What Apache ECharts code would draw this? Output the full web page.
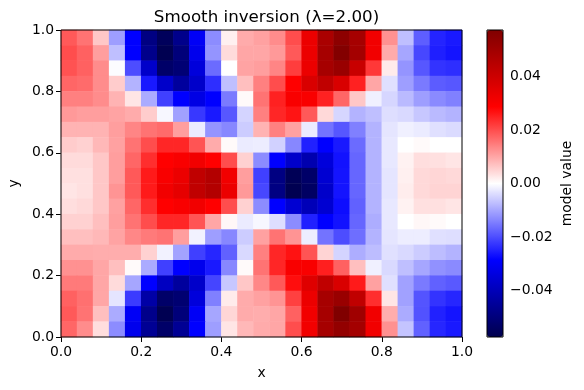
<!DOCTYPE html>
<html>
<head>
<meta charset="utf-8">
<style>
  html, body { margin: 0; padding: 0; background: #fff; }
  #chart { width: 584px; height: 390px; }
</style>
<script src="https://cdn.jsdelivr.net/npm/echarts@6/dist/echarts.min.js"></script>
</head>
<body>
<div id="chart"></div>
<script>
const FONT = '"DejaVu Sans", sans-serif';
const vmax = 0.0575;

// top row first, in units of vmax / 2 (1 = pure red, -1 = pure blue)
const row00 = [.65,.55,.22,-.38,-1,-1.7,-1.92,-1.65,-1.05,-.45,.06,.33,.37,.45,.7,1.15,1.67,1.9,1.7,1.1,.43,-.25,-.63,-.86,-.9];
const row01 = [.7,.62,.38,-.25,-1,-1.65,-1.98,-1.75,-1.1,-.42,.14,.35,.35,.4,.65,1.15,1.7,1.98,1.72,1.1,.33,-.35,-.72,-.88,-.92];
const row02 = [.68,.62,.45,-.01,-.7,-1.3,-1.85,-1.78,-1.2,-.58,0,.36,.38,.48,.76,1.15,1.7,1.8,1.43,.78,.08,-.42,-.66,-.8,-.82];
const row03 = [.6,.58,.45,.2,-.3,-.9,-1.3,-1.55,-1.3,-.82,-.25,.25,.5,.7,1,1.3,1.5,1.3,.87,.35,-.12,-.38,-.52,-.64,-.66];
const row04 = [.5,.5,.45,.3,.1,-.33,-.75,-1,-1.15,-1,-.52,.02,.55,.87,1.05,1.05,.87,.6,.22,-.06,-.16,-.27,-.38,-.46,-.5];
const row05 = [.4,.38,.38,.36,.33,.2,-.03,-.37,-.78,-.9,-.66,-.17,.5,.85,.92,.65,.15,-.16,-.3,-.25,-.13,-.15,-.22,-.27,-.3];
const row06 = [.3,.3,.3,.38,.48,.55,.58,.38,-.08,-.42,-.47,-.2,.3,.5,.37,-.08,-.55,-.66,-.5,-.3,-.1,-.06,-.08,-.12,-.14];
const row07 = [.2,.18,.28,.37,.55,.7,.85,.85,.67,.33,.02,-.08,-.07,-.18,-.47,-.87,-1,-.9,-.58,-.3,-.09,0,.02,0,0];
const row08 = [.14,.14,.22,.38,.6,.82,1,1.05,1.1,1,.7,.18,-.45,-1,-1.3,-1.45,-1.2,-.93,-.6,-.3,-.09,.05,.13,.12,.1];
const row09 = [.12,.12,.22,.38,.65,.9,1.05,1.15,1.5,1.6,1.1,.38,-.75,-1.7,-1.95,-1.85,-1.25,-.92,-.6,-.3,-.1,.06,.15,.16,.15];
const row10 = [.1,.12,.22,.42,.65,.9,1.1,1.2,1.5,1.6,1.15,.4,-.72,-1.7,-1.98,-1.88,-1.3,-.92,-.6,-.3,-.1,.07,.15,.17,.17];
const row11 = [.13,.15,.22,.37,.6,.82,1,1.05,1.1,1,.7,.18,-.45,-1,-1.25,-1.4,-1.25,-.95,-.62,-.3,-.09,.05,.12,.12,.1];
const row12 = [.18,.18,.25,.38,.55,.7,.85,.85,.67,.35,.03,-.08,-.03,-.13,-.45,-.87,-1,-.93,-.6,-.32,-.09,0,.03,.02,0];
const row13 = [.25,.25,.28,.36,.47,.52,.55,.38,-.05,-.38,-.47,-.2,.37,.55,.42,-.07,-.55,-.7,-.57,-.3,-.1,-.07,-.07,-.12,-.13];
const row14 = [.33,.33,.32,.32,.32,.18,-.05,-.36,-.75,-.85,-.62,-.15,.5,.85,.93,.67,.17,-.17,-.32,-.26,-.12,-.15,-.2,-.26,-.3];
const row15 = [.43,.43,.35,.25,.02,-.33,-.75,-1,-1.1,-.9,-.47,.02,.55,.85,1.05,1.05,.88,.62,.25,-.06,-.15,-.25,-.35,-.43,-.46];
const row16 = [.52,.52,.35,.14,-.35,-1,-1.35,-1.55,-1.3,-.73,-.22,.22,.47,.65,.95,1.25,1.5,1.3,.9,.37,-.12,-.37,-.52,-.62,-.65];
const row17 = [.62,.56,.35,-.1,-.77,-1.5,-1.85,-1.8,-1.2,-.5,.08,.33,.37,.42,.75,1.15,1.7,1.8,1.5,.82,.1,-.37,-.67,-.8,-.85];
const row18 = [.65,.55,.25,-.33,-1.05,-1.65,-1.97,-1.75,-1.05,-.35,.16,.33,.32,.35,.62,1.1,1.7,2,1.75,1.1,.32,-.33,-.68,-.87,-.92];
const row19 = [.6,.45,.13,-.45,-1.1,-1.6,-1.85,-1.6,-1,-.38,.1,.28,.33,.35,.7,1.1,1.7,1.85,1.72,1.1,.43,-.23,-.62,-.85,-.9];
const rows = [row00,row01,row02,row03,row04,row05,row06,row07,row08,row09,row10,row11,row12,row13,row14,row15,row16,row17,row18,row19];

const xTicks = [0, 0.2, 0.4, 0.6, 0.8, 1];
const yTicks = [0, 0.2, 0.4, 0.6, 0.8, 1];
const cbarTicks = [-0.04, -0.02, 0, 0.02, 0.04];
const seismic = ['#00004d', '#0000ff', '#ffffff', '#ff0000', '#800000'];

const xCats = rows[0].map((_, i) => i);
const yCats = rows.map((_, i) => i);
const cells = [];
rows.forEach((row, r) => {
  row.forEach((level, c) => {
    cells.push([c, rows.length - 1 - r, level * vmax / 2]);
  });
});

const textStyle = { color: '#000', fontFamily: FONT, fontSize: 13.9 };
const tickStyle = { show: true, length: 5, lineStyle: { color: '#000', width: 1 } };
const fixed = (v) => v.toFixed(1);
const signed = (v) => v.toFixed(2).replace('-', '\u2212');

const chart = echarts.init(document.getElementById('chart'), null, { renderer: 'canvas' });
chart.setOption({
  animation: false,
  backgroundColor: '#fff',
  title: {
    text: 'Smooth inversion (\u03bb=2.00)',
    left: 261.5,
    top: 4,
    textAlign: 'center',
    textStyle: { color: '#000', fontFamily: FONT, fontSize: 16.7, fontWeight: 'normal' },
  },
  grid: [
    { left: 61, top: 30, width: 401, height: 307, outerBoundsMode: 'none', show: true, borderColor: '#000', borderWidth: 1, backgroundColor: 'transparent', z: 10 },
    { left: 487, top: 30, width: 16, height: 307, outerBoundsMode: 'none', show: true, borderColor: '#000', borderWidth: 1, backgroundColor: 'transparent', z: 10 },
  ],
  xAxis: [
    { type: 'category', gridIndex: 0, data: xCats, show: false },
    {
      type: 'value', gridIndex: 0, min: 0, max: 1, position: 'bottom',
      name: 'x', nameLocation: 'middle', nameGap: 29, nameTextStyle: textStyle,
      splitLine: { show: false }, axisLine: { show: false }, axisTick: { ...tickStyle, customValues: xTicks },
      axisLabel: { ...textStyle, margin: 8, formatter: fixed, customValues: xTicks },
    },
    { type: 'value', gridIndex: 1, show: false, min: 0, max: 1 },
  ],
  yAxis: [
    { type: 'category', gridIndex: 0, data: yCats, show: false },
    {
      type: 'value', gridIndex: 0, min: 0, max: 1, position: 'left',
      name: 'y', nameLocation: 'middle', nameGap: 37, nameTextStyle: textStyle,
      splitLine: { show: false }, axisLine: { show: false }, axisTick: { ...tickStyle, customValues: yTicks },
      axisLabel: { ...textStyle, margin: 7, formatter: fixed, customValues: yTicks },
    },
    {
      type: 'value', gridIndex: 1, min: -vmax, max: vmax, position: 'right',
      name: 'model value', nameLocation: 'middle', nameGap: 57, nameRotate: 90, nameTextStyle: textStyle,
      splitLine: { show: false }, axisLine: { show: false }, axisTick: { ...tickStyle, customValues: cbarTicks },
      axisLabel: { ...textStyle, margin: 7, formatter: signed, customValues: cbarTicks },
    },
  ],
  visualMap: {
    type: 'continuous',
    seriesIndex: 0,
    min: -vmax,
    max: vmax,
    left: 487,
    top: 30,
    padding: 0,
    itemWidth: 16,
    itemHeight: 307,
    calculable: false,
    realtime: false,
    showLabel: false,
    text: null,
    inRange: { color: seismic },
  },
  series: [
    {
      type: 'heatmap',
      xAxisIndex: 0,
      yAxisIndex: 0,
      data: cells,
      progressive: 0,
      itemStyle: { borderWidth: 0 },
      emphasis: { disabled: true },
    },
  ],
});
</script>
</body>
</html>
